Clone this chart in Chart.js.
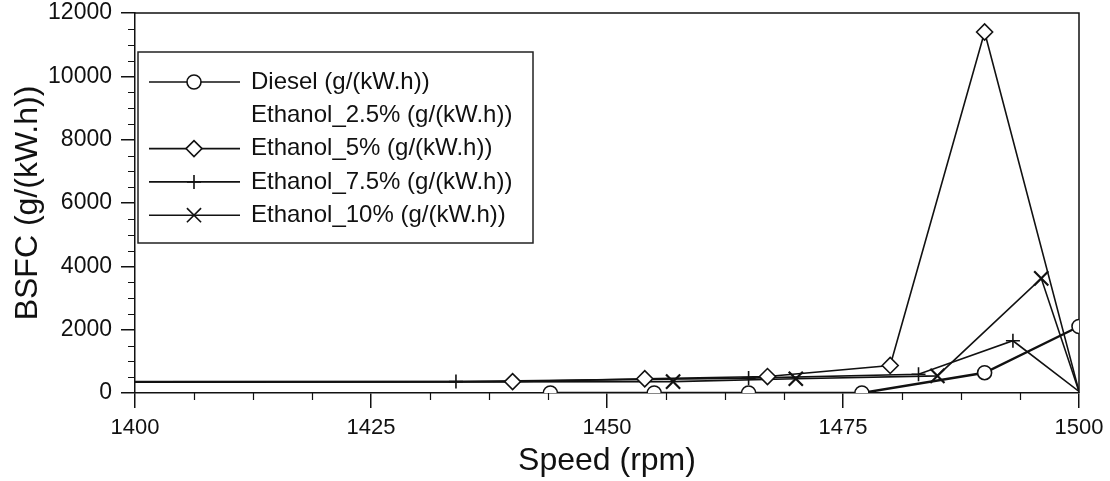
<!DOCTYPE html>
<html>
<head>
<meta charset="utf-8">
<script src="https://cdn.jsdelivr.net/npm/chart.js@4.4.1/dist/chart.umd.min.js"></script>
<style>
  html, body { margin: 0; padding: 0; background: #fff; }
  canvas { display: block; }
</style>
</head>
<body>
<canvas id="bsfc" width="1110" height="481"></canvas>
<script>
// values (speed in rpm, BSFC in g/(kW.h))
const dieselSpeed = [1444, 1455, 1465, 1477, 1490, 1500];
const dieselBsfc  = [0, 0, 0, 0, 640, 2100];

const eth25Speed = [];
const eth25Bsfc  = [];

const eth5Speed = [1400, 1440, 1454, 1467, 1480, 1490, 1500];
const eth5Bsfc  = [350, 360, 450, 520, 870, 11400, 50];

const eth75Speed = [1400, 1434, 1465, 1483, 1493, 1500];
const eth75Bsfc  = [360, 360, 470, 590, 1650, 50];

const eth10Speed = [1400, 1457, 1470, 1485, 1496, 1500];
const eth10Bsfc  = [340, 360, 450, 540, 3620, 50];

const seriesNames = [
  'Diesel (g/(kW.h))',
  'Ethanol_2.5% (g/(kW.h))',
  'Ethanol_5% (g/(kW.h))',
  'Ethanol_7.5% (g/(kW.h))',
  'Ethanol_10% (g/(kW.h))'
];

const xTicks = [1400, 1425, 1450, 1475, 1500];
const yTicks = [0, 2000, 4000, 6000, 8000, 10000, 12000];

const toPoints = (xs, ys) => xs.map((x, i) => ({ x, y: ys[i] }));
const ink = '#111';
const fontFamily = '"Liberation Sans", Arial, sans-serif';

// no marker on the first and last point of the ethanol lines
const innerOnly = r => ctx => (ctx.dataIndex === 0 || ctx.dataIndex === ctx.dataset.data.length - 1) ? 0 : r;

const base = {
  showLine: true,
  borderColor: ink,
  pointBorderColor: ink,
  pointBackgroundColor: '#fff',
  borderWidth: 1.6,
  pointBorderWidth: 1.6,
  tension: 0
};

// box on top and right of the plot, plus minor ticks
const frame = {
  id: 'frame',
  beforeDatasetsDraw(chart) {
    const { ctx, chartArea: a, scales: { x, y } } = chart;
    ctx.save();
    ctx.strokeStyle = ink;
    ctx.lineWidth = 1.5;
    ctx.beginPath();
    ctx.moveTo(a.left, a.top);
    ctx.lineTo(a.right, a.top);
    ctx.lineTo(a.right, a.bottom);
    ctx.stroke();

    ctx.lineWidth = 1.2;
    ctx.beginPath();
    for (let v = x.min; v <= x.max; v += 6.25) {
      if (v % 25 === 0) continue;
      const px = Math.round(x.getPixelForValue(v)) + 0.5;
      ctx.moveTo(px, a.bottom);
      ctx.lineTo(px, a.bottom + 7);
    }
    for (let v = y.min; v <= y.max; v += 500) {
      if (v % 2000 === 0) continue;
      const py = Math.round(y.getPixelForValue(v)) + 0.5;
      ctx.moveTo(a.left, py);
      ctx.lineTo(a.left - 7, py);
    }
    ctx.stroke();
    ctx.restore();
  }
};

// legend box drawn inside the plot area
const boxLegend = {
  id: 'boxLegend',
  afterDatasetsDraw(chart) {
    const { ctx, chartArea: a } = chart;
    const left = a.left + 3, top = a.top + 39, w = 395, h = 191;
    ctx.save();
    ctx.fillStyle = '#fff';
    ctx.fillRect(left, top, w, h);
    ctx.strokeStyle = '#222';
    ctx.lineWidth = 1.5;
    ctx.strokeRect(left, top, w, h);

    chart.data.datasets.forEach((ds, i) => {
      const cy = top + 30 + i * 33.3;
      if (ds.legendLine) {
        ctx.strokeStyle = ink;
        ctx.lineWidth = 1.6;
        ctx.beginPath();
        ctx.moveTo(left + 11, cy);
        ctx.lineTo(left + 102, cy);
        ctx.stroke();
      }
      if (ds.pointStyle) {
        ctx.strokeStyle = ink;
        ctx.fillStyle = '#fff';
        ctx.lineWidth = 1.6;
        Chart.helpers.drawPoint(ctx, {
          pointStyle: ds.pointStyle, rotation: 0, radius: ds.legendRadius, borderWidth: 1.6
        }, left + 56, cy);
      }
      ctx.fillStyle = ink;
      ctx.font = '24px ' + fontFamily;
      ctx.textBaseline = 'middle';
      ctx.textAlign = 'left';
      ctx.fillText(ds.label, left + 113, cy);
    });
    ctx.restore();
  }
};

new Chart(document.getElementById('bsfc'), {
  type: 'scatter',
  data: {
    datasets: [
      { ...base, label: seriesNames[0], data: toPoints(dieselSpeed, dieselBsfc),
        borderWidth: 2.4, pointStyle: 'circle', pointRadius: 7, legendRadius: 7, legendLine: true },
      { ...base, label: seriesNames[1], data: toPoints(eth25Speed, eth25Bsfc),
        showLine: false, pointStyle: false, pointRadius: 0, legendLine: false },
      { ...base, label: seriesNames[2], data: toPoints(eth5Speed, eth5Bsfc),
        pointStyle: 'rectRot', pointRadius: innerOnly(8), legendRadius: 8, legendLine: true },
      { ...base, label: seriesNames[3], data: toPoints(eth75Speed, eth75Bsfc),
        pointStyle: 'cross', pointRadius: innerOnly(7), legendRadius: 7, legendLine: true },
      { ...base, label: seriesNames[4], data: toPoints(eth10Speed, eth10Bsfc),
        pointStyle: 'crossRot', pointRadius: innerOnly(10), pointBorderWidth: 2.2, legendRadius: 10, legendLine: true }
    ]
  },
  options: {
    responsive: false,
    animation: false,
    layout: { padding: { top: 13, right: 31, left: 0, bottom: 0 } },
    plugins: {
      legend: { display: false },
      tooltip: { enabled: false }
    },
    scales: {
      x: {
        type: 'linear',
        min: 1400,
        max: 1500,
        afterBuildTicks: s => { s.ticks = xTicks.map(v => ({ value: v })); },
        afterFit: s => { s.height = 88; s.paddingLeft = 0; s.paddingRight = 0; },
        grid: { drawOnChartArea: false, drawTicks: true, tickLength: 15, color: ink, lineWidth: 1.5 },
        border: { display: true, color: ink, width: 1.5 },
        ticks: { color: ink, padding: 7, maxRotation: 0, callback: v => String(v),
                 font: { family: fontFamily, size: 22 } },
        title: { display: true, text: 'Speed (rpm)', color: ink, padding: { top: 0, bottom: 1 },
                 font: { family: fontFamily, size: 32 } }
      },
      y: {
        type: 'linear',
        min: 0,
        max: 12000,
        afterBuildTicks: s => { s.ticks = yTicks.map(v => ({ value: v })); },
        afterFit: s => { s.width = 135; s.paddingTop = 0; s.paddingBottom = 0; },
        grid: { drawOnChartArea: false, drawTicks: true, tickLength: 14, color: ink, lineWidth: 1.5 },
        border: { display: true, color: ink, width: 1.5 },
        ticks: { color: ink, padding: 9, callback: v => String(v),
                 font: { family: fontFamily, size: 23 } },
        title: { display: true, text: 'BSFC (g/(kW.h))', color: ink, padding: { top: 9, bottom: 0 },
                 font: { family: fontFamily, size: 32 } }
      }
    }
  },
  plugins: [frame, boxLegend]
});
</script>
</body>
</html>
